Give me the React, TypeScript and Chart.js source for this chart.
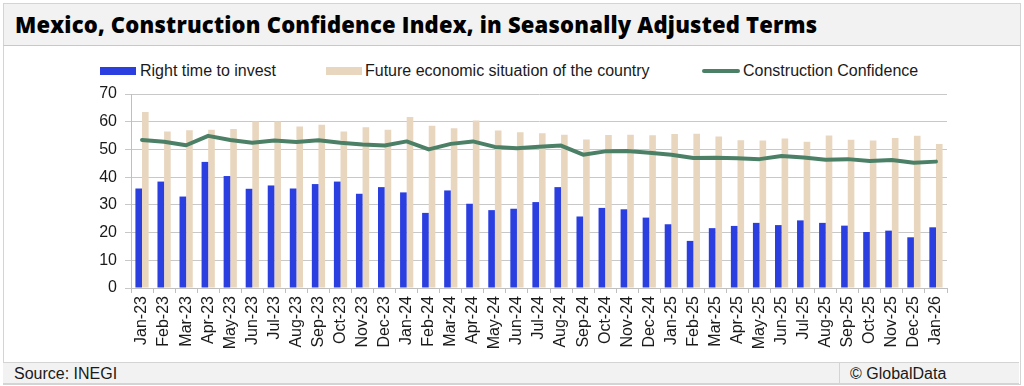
import React, { useEffect, useRef } from "react";
import { Chart, registerables } from "chart.js";

Chart.register(...registerables);

const categories = [
  "Jan-23", "Feb-23", "Mar-23", "Apr-23", "May-23", "Jun-23", "Jul-23", "Aug-23", "Sep-23", "Oct-23", "Nov-23", "Dec-23",
  "Jan-24", "Feb-24", "Mar-24", "Apr-24", "May-24", "Jun-24", "Jul-24", "Aug-24", "Sep-24", "Oct-24", "Nov-24", "Dec-24",
  "Jan-25", "Feb-25", "Mar-25", "Apr-25", "May-25", "Jun-25", "Jul-25", "Aug-25", "Sep-25", "Oct-25", "Nov-25", "Dec-25",
  "Jan-26",
];

const rightTimeToInvest = [
  35.9, 38.4, 33.0, 45.5, 40.4, 35.8, 37.0, 35.9, 37.5, 38.4, 34.0, 36.4,
  34.5, 27.1, 35.2, 30.4, 28.1, 28.6, 31.0, 36.4, 25.8, 28.9, 28.4, 25.4,
  23.0, 17.0, 21.6, 22.4, 23.5, 22.7, 24.4, 23.5, 22.5, 20.2, 20.7, 18.3,
  21.9,
];

const futureEconomicSituation = [
  63.5, 56.5, 56.9, 57.1, 57.4, 60.1, 60.1, 58.3, 58.9, 56.5, 58.0, 57.1,
  61.7, 58.5, 57.6, 60.4, 56.8, 56.2, 55.8, 55.3, 53.6, 55.2, 55.3, 55.1,
  55.6, 55.7, 54.7, 53.3, 53.2, 53.9, 52.8, 55.0, 53.5, 53.2, 54.1, 54.9,
  52.0,
];

const constructionConfidence = [
  53.4, 52.8, 51.5, 54.9, 53.4, 52.4, 53.2, 52.7, 53.3, 52.4, 51.8, 51.4,
  52.9, 50.0, 52.0, 52.9, 50.9, 50.4, 51.0, 51.4, 48.1, 49.3, 49.4, 48.8,
  48.1, 46.9, 47.0, 46.8, 46.5, 47.6, 47.1, 46.3, 46.5, 45.8, 46.2, 45.2,
  45.6,
];

const yTicks = [0, 10, 20, 30, 40, 50, 60, 70];

const seriesNames = [
  "Right time to invest",
  "Future economic situation of the country",
  "Construction Confidence",
];

const BLUE = "#2b3fe1";
const BEIGE = "#e9d6bf";
const GREEN = "#4b8066";
const FONT = "'Liberation Sans', Arial, sans-serif";

export default function App() {
  const canvasRef = useRef<HTMLCanvasElement | null>(null);

  useEffect(() => {
    if (!canvasRef.current) return;
    const chart = new Chart(canvasRef.current, {
      data: {
        labels: categories,
        datasets: [
          {
            type: "bar",
            label: seriesNames[0],
            data: rightTimeToInvest,
            backgroundColor: BLUE,
            borderWidth: 0,
            categoryPercentage: 0.6,
            barPercentage: 1,
            order: 2,
          },
          {
            type: "bar",
            label: seriesNames[1],
            data: futureEconomicSituation,
            backgroundColor: BEIGE,
            borderWidth: 0,
            categoryPercentage: 0.6,
            barPercentage: 1,
            order: 2,
          },
          {
            type: "line",
            label: seriesNames[2],
            data: constructionConfidence,
            borderColor: GREEN,
            backgroundColor: GREEN,
            borderWidth: 4,
            pointRadius: 0,
            tension: 0,
            borderJoinStyle: "round",
            borderCapStyle: "round",
            order: 1,
          },
        ],
      } as any,
      options: {
        animation: false,
        responsive: false,
        maintainAspectRatio: false,
        layout: { padding: { left: 0, right: 77, top: 48, bottom: 0 } },
        plugins: {
          legend: { display: false },
          tooltip: { enabled: false },
        },
        scales: {
          x: {
            offset: true,
            grid: {
              offset: true,
              drawOnChartArea: false,
              tickLength: 5,
              color: "#bfbfbf",
            },
            border: { color: "#bfbfbf" },
            ticks: {
              autoSkip: false,
              maxRotation: 90,
              minRotation: 90,
              padding: 3,
              color: "#1a1a1a",
              font: { family: FONT, size: 16 },
            },
            afterFit: (axis: any) => {
              axis.height = 74;
            },
          },
          y: {
            min: 0,
            max: 70,
            grid: { color: "#c8c8c8", tickLength: 6 },
            border: { color: "#bfbfbf" },
            ticks: {
              stepSize: 10,
              padding: 8,
              color: "#1a1a1a",
              font: { family: FONT, size: 16 },
            },
            afterBuildTicks: (axis: any) => {
              axis.ticks = yTicks.map((v) => ({ value: v }));
            },
            afterFit: (axis: any) => {
              axis.width = 131;
            },
          },
        },
      } as any,
    });
    return () => chart.destroy();
  }, []);

  const legendText: React.CSSProperties = {
    position: "absolute",
    top: 63,
    fontFamily: FONT,
    fontSize: 16,
    lineHeight: "16px",
    color: "#1a1a1a",
    whiteSpace: "nowrap",
  };

  return (
    <div
      style={{
        position: "absolute",
        left: 0,
        top: 0,
        width: 1024,
        height: 386,
        background: "#ffffff",
        overflow: "hidden",
      }}
    >
      {/* outer frame */}
      <div
        style={{
          position: "absolute",
          left: 3,
          top: 3,
          width: 1016,
          height: 380,
          border: "1px solid #d4d4d4",
        }}
      />
      {/* title bar */}
      <div
        style={{
          position: "absolute",
          left: 3,
          top: 3,
          width: 1016,
          height: 41,
          background: "#f2f2f2",
          border: "1px solid #d4d4d4",
          borderBottom: "1px solid #c8c8c8",
        }}
      >
        <div
          style={{
            position: "absolute",
            left: 11,
            top: 6,
            fontFamily: "'Open Sans', sans-serif",
            fontWeight: 800,
            fontSize: 22,
            letterSpacing: "0.2px",
            lineHeight: "28px",
            color: "#000",
            whiteSpace: "nowrap",
          }}
        >
          Mexico, Construction Confidence Index, in Seasonally Adjusted Terms
        </div>
      </div>

      {/* legend */}
      <div style={{ position: "absolute", left: 100, top: 67, width: 36, height: 8, background: BLUE }} />
      <div style={{ ...legendText, left: 140 }}>{seriesNames[0]}</div>
      <div style={{ position: "absolute", left: 326, top: 67, width: 36, height: 8, background: BEIGE }} />
      <div style={{ ...legendText, left: 365 }}>{seriesNames[1]}</div>
      <div
        style={{
          position: "absolute",
          left: 702,
          top: 69,
          width: 38,
          height: 4,
          borderRadius: 2,
          background: GREEN,
        }}
      />
      <div style={{ ...legendText, left: 743 }}>{seriesNames[2]}</div>

      <canvas
        ref={canvasRef}
        width={1024}
        height={316}
        style={{ position: "absolute", left: 0, top: 46, width: 1024, height: 316 }}
      />

      {/* footer */}
      <div
        style={{
          position: "absolute",
          left: 3,
          top: 362,
          width: 1016,
          height: 20,
          background: "#f2f2f2",
          borderTop: "1px solid #d4d4d4",
          borderBottom: "1px solid #d4d4d4",
        }}
      >
        <div
          style={{
            position: "absolute",
            left: 11,
            top: 2,
            fontFamily: FONT,
            fontSize: 16,
            lineHeight: "17px",
            color: "#1a1a1a",
          }}
        >
          Source: INEGI
        </div>
        <div
          style={{
            position: "absolute",
            left: 836,
            top: 0,
            width: 1,
            height: 20,
            background: "#d4d4d4",
          }}
        />
        <div
          style={{
            position: "absolute",
            left: 847,
            top: 2,
            fontFamily: FONT,
            fontSize: 16,
            lineHeight: "17px",
            color: "#1a1a1a",
          }}
        >
          © GlobalData
        </div>
      </div>
    </div>
  );
}
